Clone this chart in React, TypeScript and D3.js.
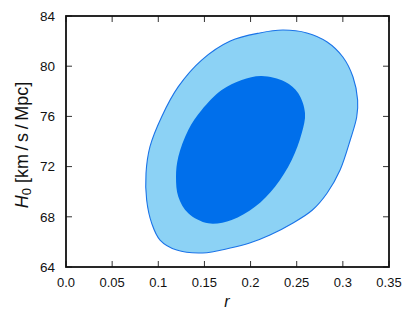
import React from "react";
import * as d3 from "d3";

// r, H0 points along the 95% (outer) and 68% (inner) contours
const outerR = [0.178, 0.21, 0.235, 0.261, 0.283, 0.3, 0.311, 0.316, 0.315, 0.308, 0.297, 0.283, 0.267, 0.246, 0.221, 0.199, 0.178, 0.148, 0.12, 0.1019, 0.0929, 0.0874, 0.0867, 0.091, 0.1037, 0.1217, 0.147];
const outerH = [82.01, 82.65, 82.88, 82.65, 81.93, 80.73, 79.14, 77.31, 75.95, 74.12, 71.73, 69.9, 68.54, 67.51, 66.55, 65.91, 65.51, 65.12, 65.35, 66.15, 67.48, 69.34, 71.47, 73.59, 75.98, 78.37, 80.49];
const innerR = [0.2121, 0.2373, 0.2517, 0.259, 0.2554, 0.2446, 0.2265, 0.2048, 0.1795, 0.1542, 0.1325, 0.1217, 0.1192, 0.1217, 0.1325, 0.147, 0.1687, 0.1904];
const innerH = [79.22, 78.76, 77.84, 76.25, 74.65, 72.53, 70.4, 68.8, 67.75, 67.48, 68.28, 69.6, 71.2, 72.79, 74.92, 76.51, 78.1, 78.9];

const xTicks = [0, 0.05, 0.1, 0.15, 0.2, 0.25, 0.3, 0.35];
const xTickLabels = ["0.0", "0.05", "0.1", "0.15", "0.2", "0.25", "0.3", "0.35"];
const yTicks = [64, 68, 72, 76, 80, 84];

const W = 415;
const H = 322;
const left = 66, right = 389, top = 16, bottom = 267;
const font = "'Liberation Sans', Arial, sans-serif";

export default function App() {
    const x = d3.scaleLinear().domain([0, 0.35]).range([left, right]);
    const y = d3.scaleLinear().domain([64, 84]).range([bottom, top]);

    const line = d3
        .line<[number, number]>()
        .x((d) => x(d[0]))
        .y((d) => y(d[1]))
        .curve(d3.curveCatmullRomClosed.alpha(0.5));

    const outer = outerR.map((r, i) => [r, outerH[i]] as [number, number]);
    const inner = innerR.map((r, i) => [r, innerH[i]] as [number, number]);
    const tl = 6;

    return (
        <svg
            width={W}
            height={H}
            style={{ position: "absolute", left: 0, top: 0, background: "white" }}
        >
            <path d={line(outer) || ""} fill="#8cd2f5" stroke="#1a73e8" strokeWidth={1.1} />
            <path d={line(inner) || ""} fill="#006feb" />

            {xTicks.map((t, i) => (
                <g key={"x" + i}>
                    <line x1={x(t)} x2={x(t)} y1={bottom} y2={bottom - tl} stroke="#333" strokeWidth={1} />
                    <line x1={x(t)} x2={x(t)} y1={top} y2={top + tl} stroke="#333" strokeWidth={1} />
                    <text
                        x={x(t)}
                        y={286.5}
                        textAnchor="middle"
                        fontFamily={font}
                        fontSize={13}
                        fill="#111"
                    >
                        {xTickLabels[i]}
                    </text>
                </g>
            ))}
            {yTicks.map((t, i) => (
                <g key={"y" + i}>
                    <line x1={left} x2={left + tl} y1={y(t)} y2={y(t)} stroke="#333" strokeWidth={1} />
                    <line x1={right} x2={right - tl} y1={y(t)} y2={y(t)} stroke="#333" strokeWidth={1} />
                    <text
                        x={55}
                        y={y(t) + 4.7}
                        textAnchor="end"
                        fontFamily={font}
                        fontSize={13.5}
                        fill="#111"
                    >
                        {t}
                    </text>
                </g>
            ))}
            <rect
                x={left}
                y={top}
                width={right - left}
                height={bottom - top}
                fill="none"
                stroke="#111"
                strokeWidth={1.8}
            />

            <text
                x={227}
                y={307}
                textAnchor="middle"
                fontFamily={font}
                fontSize={16}
                fontStyle="italic"
                fill="#111"
            >
                r
            </text>

            <text
                transform={`translate(28, ${(top + bottom) / 2 + 3.5}) rotate(-90)`}
                textAnchor="middle"
                fontFamily={font}
                fontSize={18}
                fill="#111"
            >
                <tspan fontStyle="italic">H</tspan>
                <tspan fontSize={13} dy={3}>0</tspan>
                <tspan dy={-3}>{" [km\u2009/\u2009s\u2009/\u2009Mpc]"}</tspan>
            </text>
        </svg>
    );
}
